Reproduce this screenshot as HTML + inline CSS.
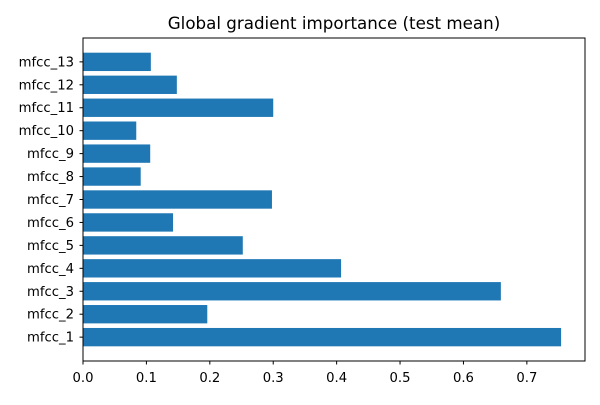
<!DOCTYPE html>
<html><head><meta charset="utf-8"><style>
body{margin:0;background:#fff;}
svg text{font-family:"DejaVu Sans","Liberation Sans",sans-serif;fill:#000;}
</style></head><body>
<svg id="chart" width="600" height="400">
<rect x="0" y="0" width="600" height="400" fill="#fff"/>
<text x="334" y="29" text-anchor="middle" font-size="16.7">Global gradient importance (test mean)</text>
<g id="bars"></g><g id="xt"></g><g id="yt"></g>
<rect x="83" y="38" width="502" height="323" fill="none" stroke="#000" stroke-width="1"/>
</svg>
<script>
const categories=["mfcc_1","mfcc_2","mfcc_3","mfcc_4","mfcc_5","mfcc_6","mfcc_7","mfcc_8","mfcc_9","mfcc_10","mfcc_11","mfcc_12","mfcc_13"];
const values=[0.754,0.196,0.659,0.407,0.252,0.142,0.298,0.091,0.106,0.084,0.300,0.148,0.107];
const xTicks=[0,0.1,0.2,0.3,0.4,0.5,0.6,0.7];
const xTickLabels=["0.0","0.1","0.2","0.3","0.4","0.5","0.6","0.7"];
const L=83,R=585,T=38,B=361;
const xmax=Math.max(...values)*1.05;
const x=v=>L+v/xmax*(R-L);
const n=categories.length;
const ymin=-0.4-0.05*(n-0.2),ymax=n-1+0.4+0.05*(n-0.2);
const y=i=>B-(i-ymin)/(ymax-ymin)*(B-T);
const ns="http://www.w3.org/2000/svg";
function mk(t,a,p){const e=document.createElementNS(ns,t);for(const k in a)e.setAttribute(k,a[k]);p.appendChild(e);return e;}
const bars=document.getElementById('bars'),xt=document.getElementById('xt'),yt=document.getElementById('yt');
const bh=(y(0)-y(0.8));
values.forEach((v,i)=>{
 const r=mk('rect',{x:x(0),y:y(i)-bh/2,width:x(v)-x(0),height:bh,fill:'#1f77b4'},bars);
 
 
 mk('line',{x1:L,x2:L-3.5,y1:y(i),y2:y(i),stroke:'#000'},yt);
 const t=mk('text',{x:L-9,y:y(i)+4.5,'text-anchor':'end','font-size':'13.2'},yt);
 t.textContent=categories[i];
 
 
});
xTicks.forEach((v,i)=>{
 mk('line',{x1:x(v),x2:x(v),y1:B,y2:B+3.5,stroke:'#000'},xt);
 const t=mk('text',{x:x(v),y:B+21,'text-anchor':'middle','font-size':'13.2'},xt);
 t.textContent=xTickLabels[i];
 
 
});
</script>
</body></html>
